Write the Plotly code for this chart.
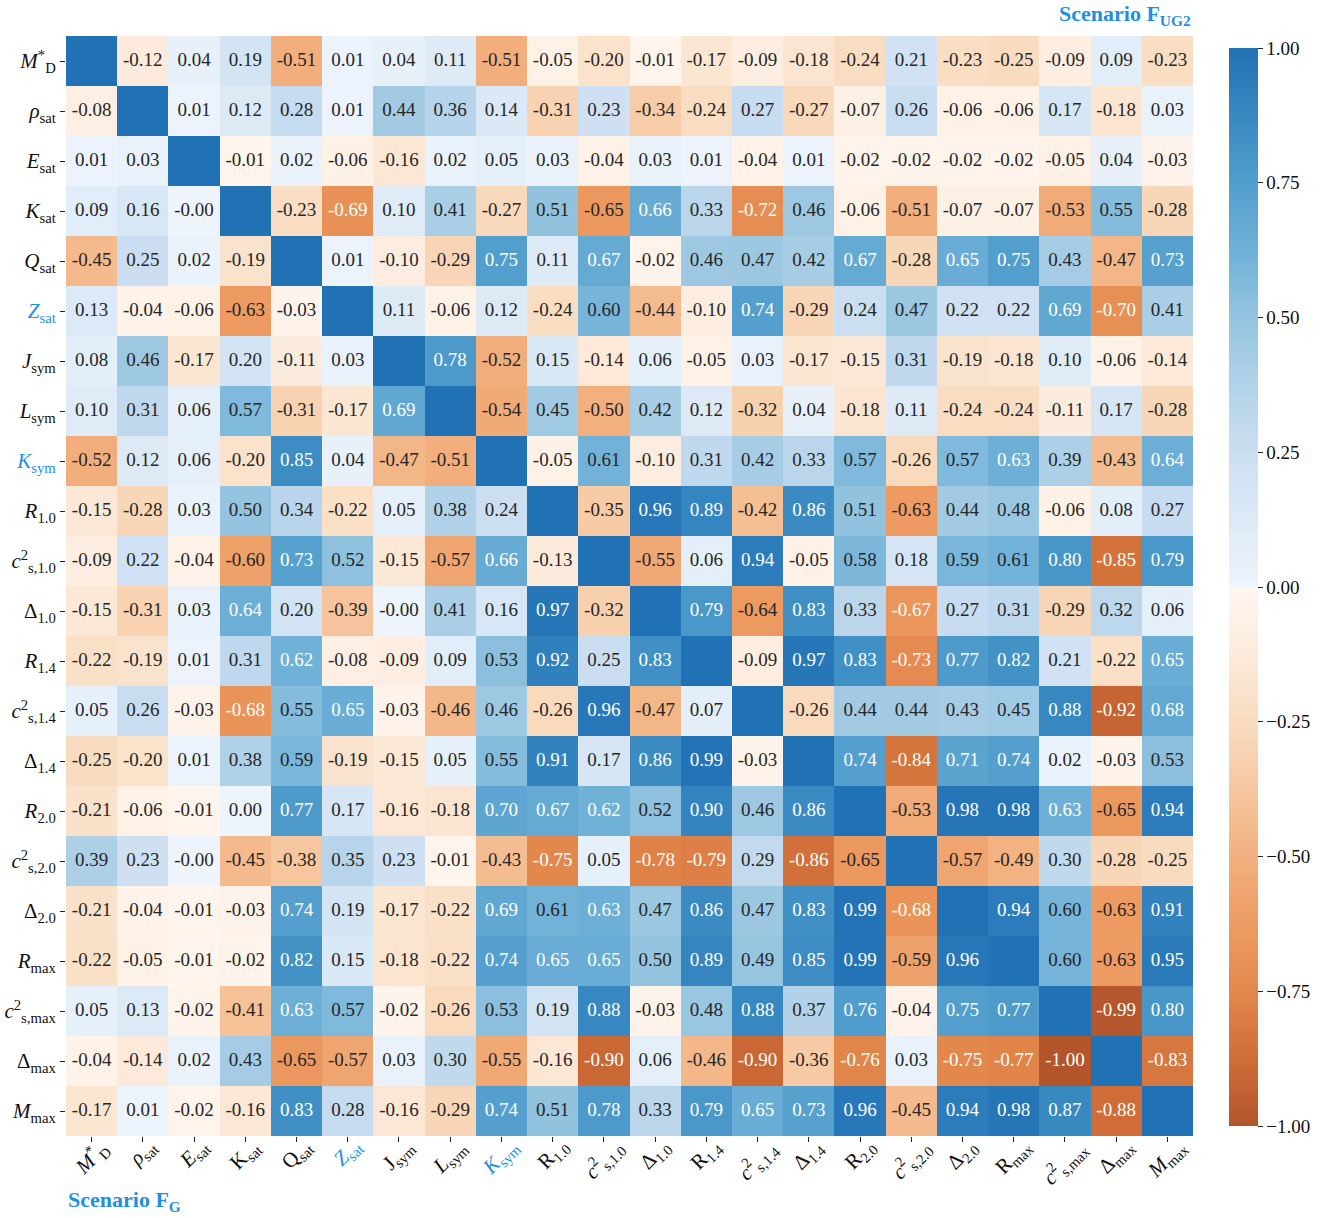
import plotly.graph_objects as go

BLUE_HL = "#1E8FE3"

def hl(s):
    return f'<span style="color:{BLUE_HL}">{s}</span>'

labels_y = [
    "<i>M</i><sup>*</sup><sub>D</sub>", "<i>ρ</i><sub>sat</sub>", "<i>E</i><sub>sat</sub>",
    "<i>K</i><sub>sat</sub>", "<i>Q</i><sub>sat</sub>", hl("<i>Z</i><sub>sat</sub>"),
    "<i>J</i><sub>sym</sub>", "<i>L</i><sub>sym</sub>", hl("<i>K</i><sub>sym</sub>"),
    "<i>R</i><sub>1.0</sub>", "<i>c</i><sup>2</sup><sub>s,1.0</sub>", "Δ<sub>1.0</sub>",
    "<i>R</i><sub>1.4</sub>", "<i>c</i><sup>2</sup><sub>s,1.4</sub>", "Δ<sub>1.4</sub>",
    "<i>R</i><sub>2.0</sub>", "<i>c</i><sup>2</sup><sub>s,2.0</sub>", "Δ<sub>2.0</sub>",
    "<i>R</i><sub>max</sub>", "<i>c</i><sup>2</sup><sub>s,max</sub>", "Δ<sub>max</sub>",
    "<i>M</i><sub>max</sub>",
]

labels_x = [
    "<i>M</i><sup>*</sup><sub>D</sub>", "<i>ρ</i><sub>sat</sub>", "<i>E</i><sub>sat</sub>",
    "K<sub>sat</sub>", "Q<sub>sat</sub>", hl("<i>Z</i><sub>sat</sub>"),
    "J<sub>sym</sub>", "<i>L</i><sub>sym</sub>", hl("<i>K</i><sub>sym</sub>"),
    "R<sub>1.0</sub>", "<i>c</i><sup>2</sup><sub>s,1.0</sub>", "Δ<sub>1.0</sub>",
    "R<sub>1.4</sub>", "<i>c</i><sup>2</sup><sub>s,1.4</sub>", "Δ<sub>1.4</sub>",
    "R<sub>2.0</sub>", "<i>c</i><sup>2</sup><sub>s,2.0</sub>", "Δ<sub>2.0</sub>",
    "R<sub>max</sub>", "<i>c</i><sup>2</sup><sub>s,max</sub>", "Δ<sub>max</sub>",
    "<i>M</i><sub>max</sub>",
]

# Correlation rows (None on the diagonal)
r_MD   = [None, -0.12, 0.04, 0.19, -0.51, 0.01, 0.04, 0.11, -0.51, -0.05, -0.20, -0.01, -0.17, -0.09, -0.18, -0.24, 0.21, -0.23, -0.25, -0.09, 0.09, -0.23]
r_rho  = [-0.08, None, 0.01, 0.12, 0.28, 0.01, 0.44, 0.36, 0.14, -0.31, 0.23, -0.34, -0.24, 0.27, -0.27, -0.07, 0.26, -0.06, -0.06, 0.17, -0.18, 0.03]
r_Esat = [0.01, 0.03, None, -0.01, 0.02, -0.06, -0.16, 0.02, 0.05, 0.03, -0.04, 0.03, 0.01, -0.04, 0.01, -0.02, -0.02, -0.02, -0.02, -0.05, 0.04, -0.03]
r_Ksat = [0.09, 0.16, -0.0, None, -0.23, -0.69, 0.10, 0.41, -0.27, 0.51, -0.65, 0.66, 0.33, -0.72, 0.46, -0.06, -0.51, -0.07, -0.07, -0.53, 0.55, -0.28]
r_Qsat = [-0.45, 0.25, 0.02, -0.19, None, 0.01, -0.10, -0.29, 0.75, 0.11, 0.67, -0.02, 0.46, 0.47, 0.42, 0.67, -0.28, 0.65, 0.75, 0.43, -0.47, 0.73]
r_Zsat = [0.13, -0.04, -0.06, -0.63, -0.03, None, 0.11, -0.06, 0.12, -0.24, 0.60, -0.44, -0.10, 0.74, -0.29, 0.24, 0.47, 0.22, 0.22, 0.69, -0.70, 0.41]
r_Jsym = [0.08, 0.46, -0.17, 0.20, -0.11, 0.03, None, 0.78, -0.52, 0.15, -0.14, 0.06, -0.05, 0.03, -0.17, -0.15, 0.31, -0.19, -0.18, 0.10, -0.06, -0.14]
r_Lsym = [0.10, 0.31, 0.06, 0.57, -0.31, -0.17, 0.69, None, -0.54, 0.45, -0.50, 0.42, 0.12, -0.32, 0.04, -0.18, 0.11, -0.24, -0.24, -0.11, 0.17, -0.28]
r_Ksym = [-0.52, 0.12, 0.06, -0.20, 0.85, 0.04, -0.47, -0.51, None, -0.05, 0.61, -0.10, 0.31, 0.42, 0.33, 0.57, -0.26, 0.57, 0.63, 0.39, -0.43, 0.64]
r_R10  = [-0.15, -0.28, 0.03, 0.50, 0.34, -0.22, 0.05, 0.38, 0.24, None, -0.35, 0.96, 0.89, -0.42, 0.86, 0.51, -0.63, 0.44, 0.48, -0.06, 0.08, 0.27]
r_c10  = [-0.09, 0.22, -0.04, -0.60, 0.73, 0.52, -0.15, -0.57, 0.66, -0.13, None, -0.55, 0.06, 0.94, -0.05, 0.58, 0.18, 0.59, 0.61, 0.80, -0.85, 0.79]
r_D10  = [-0.15, -0.31, 0.03, 0.64, 0.20, -0.39, -0.0, 0.41, 0.16, 0.97, -0.32, None, 0.79, -0.64, 0.83, 0.33, -0.67, 0.27, 0.31, -0.29, 0.32, 0.06]
r_R14  = [-0.22, -0.19, 0.01, 0.31, 0.62, -0.08, -0.09, 0.09, 0.53, 0.92, 0.25, 0.83, None, -0.09, 0.97, 0.83, -0.73, 0.77, 0.82, 0.21, -0.22, 0.65]
r_c14  = [0.05, 0.26, -0.03, -0.68, 0.55, 0.65, -0.03, -0.46, 0.46, -0.26, 0.96, -0.47, 0.07, None, -0.26, 0.44, 0.44, 0.43, 0.45, 0.88, -0.92, 0.68]
r_D14  = [-0.25, -0.20, 0.01, 0.38, 0.59, -0.19, -0.15, 0.05, 0.55, 0.91, 0.17, 0.86, 0.99, -0.03, None, 0.74, -0.84, 0.71, 0.74, 0.02, -0.03, 0.53]
r_R20  = [-0.21, -0.06, -0.01, 0.00, 0.77, 0.17, -0.16, -0.18, 0.70, 0.67, 0.62, 0.52, 0.90, 0.46, 0.86, None, -0.53, 0.98, 0.98, 0.63, -0.65, 0.94]
r_c20  = [0.39, 0.23, -0.0, -0.45, -0.38, 0.35, 0.23, -0.01, -0.43, -0.75, 0.05, -0.78, -0.79, 0.29, -0.86, -0.65, None, -0.57, -0.49, 0.30, -0.28, -0.25]
r_D20  = [-0.21, -0.04, -0.01, -0.03, 0.74, 0.19, -0.17, -0.22, 0.69, 0.61, 0.63, 0.47, 0.86, 0.47, 0.83, 0.99, -0.68, None, 0.94, 0.60, -0.63, 0.91]
r_Rmax = [-0.22, -0.05, -0.01, -0.02, 0.82, 0.15, -0.18, -0.22, 0.74, 0.65, 0.65, 0.50, 0.89, 0.49, 0.85, 0.99, -0.59, 0.96, None, 0.60, -0.63, 0.95]
r_cmax = [0.05, 0.13, -0.02, -0.41, 0.63, 0.57, -0.02, -0.26, 0.53, 0.19, 0.88, -0.03, 0.48, 0.88, 0.37, 0.76, -0.04, 0.75, 0.77, None, -0.99, 0.80]
r_Dmax = [-0.04, -0.14, 0.02, 0.43, -0.65, -0.57, 0.03, 0.30, -0.55, -0.16, -0.90, 0.06, -0.46, -0.90, -0.36, -0.76, 0.03, -0.75, -0.77, -1.00, None, -0.83]
r_Mmax = [-0.17, 0.01, -0.02, -0.16, 0.83, 0.28, -0.16, -0.29, 0.74, 0.51, 0.78, 0.33, 0.79, 0.65, 0.73, 0.96, -0.45, 0.94, 0.98, 0.87, -0.88, None]

rows = [r_MD, r_rho, r_Esat, r_Ksat, r_Qsat, r_Zsat, r_Jsym, r_Lsym, r_Ksym, r_R10, r_c10,
        r_D10, r_R14, r_c14, r_D14, r_R20, r_c20, r_D20, r_Rmax, r_cmax, r_Dmax, r_Mmax]

cbar_vals = [-1.0, -0.75, -0.5, -0.25, 0.0, 0.25, 0.5, 0.75, 1.0]

n = len(rows)
idx = list(range(n))
z = [[1.0 if v is None else v for v in row] for row in rows]

colorscale = [
    [0.0, "#B3552B"], [0.0625, "#D06D38"], [0.125, "#E3884D"], [0.1875, "#ED9C63"],
    [0.25, "#F2B07F"], [0.3125, "#F6C7A0"], [0.375, "#F9DCC0"], [0.4375, "#FCEBDC"],
    [0.5, "#FFF6EF"], [0.5, "#EDF4FC"], [0.5625, "#DCEAF6"], [0.625, "#CBDEF1"],
    [0.6875, "#B2D2E8"], [0.75, "#94C4DF"], [0.8125, "#6FB0D7"], [0.875, "#529ECD"],
    [0.9375, "#3888C1"], [1.0, "#2171B5"],
]

SERIF = "Liberation Serif, Times New Roman, serif"

fig = go.Figure()
fig.add_trace(go.Heatmap(
    z=z, x=idx, y=idx, zmin=-1, zmax=1, colorscale=colorscale,
    hoverinfo="skip",
    colorbar=dict(
        thickness=29, len=0.998, lenmode="fraction", x=1.023, xanchor="left", y=0.0,
        yanchor="bottom", outlinewidth=0, ticks="outside", ticklen=5, tickwidth=1,
        tickcolor="#222", tickvals=cbar_vals,
        ticktext=[f"{v:.2f}".replace("-", "\u2212") for v in cbar_vals],
        tickfont=dict(family=SERIF, size=19, color="#111"),
    ),
))

dark_x, dark_y, dark_t = [], [], []
light_x, light_y, light_t = [], [], []
for i, row in enumerate(rows):
    for j, v in enumerate(row):
        if v is None:
            continue
        s = f"{v:.2f}"
        if v >= 0.615 or v <= -0.66:
            light_x.append(j); light_y.append(i); light_t.append(s)
        else:
            dark_x.append(j); dark_y.append(i); dark_t.append(s)

fig.add_trace(go.Scatter(x=dark_x, y=dark_y, text=dark_t, mode="text",
                         textfont=dict(family=SERIF, size=19, color="#262626"),
                         hoverinfo="skip", showlegend=False))
fig.add_trace(go.Scatter(x=light_x, y=light_y, text=light_t, mode="text",
                         textfont=dict(family=SERIF, size=19, color="#FFFFFF"),
                         hoverinfo="skip", showlegend=False))

for j, lab in enumerate(labels_x):
    fig.add_annotation(x=j, xref="x", y=0.003, yref="paper", text=lab,
                       textangle=-45, xanchor="center", yanchor="top", showarrow=False,
                       borderpad=0, font=dict(family=SERIF, size=21, color="#111"))

fig.add_annotation(x=1.0, xref="paper", y=1.019, yref="paper", xanchor="right", yanchor="middle",
                   text="<b>Scenario F<sub>UG2</sub></b>", showarrow=False,
                   font=dict(family=SERIF, size=22, color=BLUE_HL))
fig.add_annotation(x=0.0, xref="paper", y=-0.059, yref="paper", xanchor="left", yanchor="middle",
                   text="<b>Scenario F<sub>G</sub></b>", showarrow=False,
                   font=dict(family=SERIF, size=22, color=BLUE_HL))

fig.update_xaxes(range=[-0.5, n - 0.5], tickvals=idx, showticklabels=False, ticks="outside",
                 ticklen=5, tickwidth=1, tickcolor="#222", showgrid=False, zeroline=False,
                 showline=False, automargin=False)
fig.update_yaxes(range=[n - 0.5, -0.5], tickvals=idx, ticktext=labels_y, ticks="outside",
                 ticklen=5, tickwidth=1, tickcolor="#222", showgrid=False, zeroline=False,
                 showline=False, automargin=False,
                 tickfont=dict(family=SERIF, size=21, color="#111"))

fig.update_layout(
    width=1331, height=1218,
    margin=dict(l=66, r=138, t=36, b=82, autoexpand=False),
    paper_bgcolor="white", plot_bgcolor="white",
    showlegend=False,
)

fig.write_html("out.html", config={"displayModeBar": False},
               post_script="document.body.style.margin='0px';")
